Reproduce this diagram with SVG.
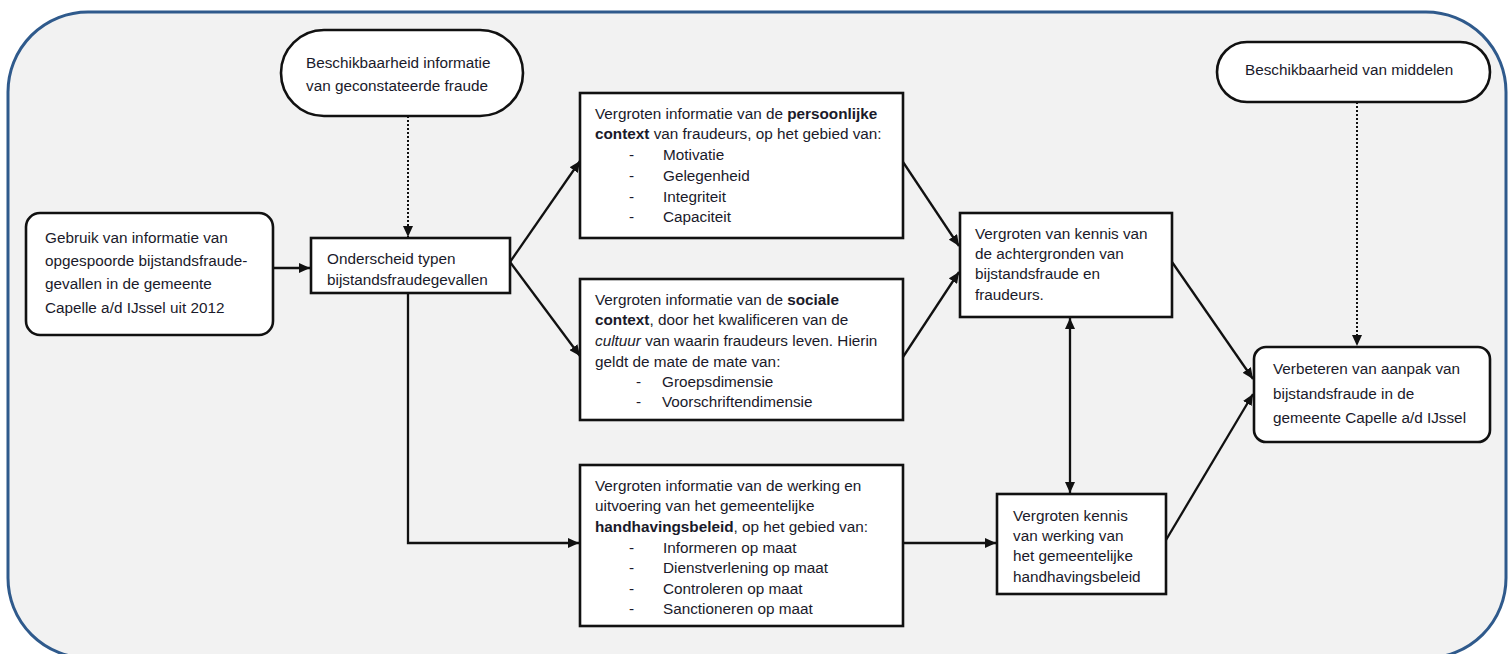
<svg xmlns="http://www.w3.org/2000/svg" width="1508" height="654" viewBox="0 0 1508 654">
<style>
text{font-family:"Liberation Sans",Arial,sans-serif;font-size:15.3px;fill:#1a1a2a}
.box{fill:#fff;stroke:#111;stroke-width:2.6}
.ln{fill:none;stroke:#111;stroke-width:2.3}
.dot{fill:none;stroke:#111;stroke-width:2;stroke-dasharray:2 2}
.b{font-weight:bold}
.i{font-style:italic}
</style>
<defs>
<marker id="ah" markerUnits="userSpaceOnUse" markerWidth="11" markerHeight="10" refX="11" refY="5" orient="auto-start-reverse">
<path d="M0,0 L11,5 L0,10 z" fill="#111"/>
</marker>
</defs>
<rect x="8" y="12" width="1498" height="646" rx="80" ry="80" fill="#f2f2f2" stroke="#2f5a8c" stroke-width="3"/>
<g id="connectors">
<path class="ln" d="M273,268 L310,268" marker-end="url(#ah)"/>
<path class="dot" d="M408,116 L408,237" marker-end="url(#ah)"/>
<path class="ln" d="M510,262 L580,161" marker-end="url(#ah)"/>
<path class="ln" d="M510,262 L580,356" marker-end="url(#ah)"/>
<path class="ln" d="M408,293 L408,543 L579,543" marker-end="url(#ah)"/>
<path class="ln" d="M903,162 L959,246" marker-end="url(#ah)"/>
<path class="ln" d="M903,357 L959,272" marker-end="url(#ah)"/>
<path class="ln" d="M903,543 L996,543" marker-end="url(#ah)"/>
<path class="ln" d="M1070,318 L1070,493" marker-start="url(#ah)" marker-end="url(#ah)"/>
<path class="ln" d="M1172,262 L1253,379" marker-end="url(#ah)"/>
<path class="ln" d="M1166,540 L1253,394" marker-end="url(#ah)"/>
<path class="dot" d="M1357,102 L1357,346" marker-end="url(#ah)"/>
</g>
<g id="pill-informatie">
<rect class="box" x="281" y="30" width="242" height="86" rx="43"/>
<text x="306" y="68">Beschikbaarheid informatie</text>
<text x="306" y="91">van geconstateerde fraude</text>
</g>
<g id="pill-middelen">
<rect class="box" x="1217" y="42" width="273" height="60" rx="30"/>
<text x="1245" y="75">Beschikbaarheid van middelen</text>
</g>
<g id="gebruik">
<rect class="box" x="26" y="213" width="247" height="122" rx="14"/>
<text x="45" y="243">Gebruik van informatie van</text>
<text x="45" y="266">opgespoorde bijstandsfraude-</text>
<text x="45" y="289">gevallen in de gemeente</text>
<text x="45" y="313">Capelle a/d IJssel uit 2012</text>
</g>
<g id="onderscheid">
<rect class="box" x="311" y="238" width="199" height="55"/>
<text x="327" y="264">Onderscheid typen</text>
<text x="327" y="285">bijstandsfraudegevallen</text>
</g>
<g id="persoonlijk">
<rect class="box" x="580" y="93" width="323" height="145"/>
<text x="595" y="119">Vergroten informatie van de <tspan class="b">persoonlijke</tspan></text>
<text x="595" y="139"><tspan class="b">context</tspan> van fraudeurs, op het gebied van:</text>
<text x="629" y="160">-</text><text x="663" y="160">Motivatie</text>
<text x="629" y="181">-</text><text x="663" y="181">Gelegenheid</text>
<text x="629" y="202">-</text><text x="663" y="202">Integriteit</text>
<text x="629" y="222">-</text><text x="663" y="222">Capaciteit</text>
</g>
<g id="sociaal">
<rect class="box" x="580" y="279" width="323" height="141"/>
<text x="595" y="305">Vergroten informatie van de <tspan class="b">sociale</tspan></text>
<text x="595" y="325"><tspan class="b">context</tspan>, door het kwalificeren van de</text>
<text x="595" y="346"><tspan class="i">cultuur</tspan> van waarin fraudeurs leven.  Hierin</text>
<text x="595" y="367">geldt de mate  de mate van:</text>
<text x="636" y="387">-</text><text x="662" y="387">Groepsdimensie</text>
<text x="636" y="407">-</text><text x="662" y="407">Voorschriftendimensie</text>
</g>
<g id="handhaving">
<rect class="box" x="580" y="465" width="323" height="161"/>
<text x="595" y="491">Vergroten informatie van de werking en</text>
<text x="595" y="511">uitvoering van het gemeentelijke</text>
<text x="595" y="532"><tspan class="b">handhavingsbeleid</tspan>, op het gebied van:</text>
<text x="629" y="553">-</text><text x="663" y="553">Informeren op maat</text>
<text x="629" y="573">-</text><text x="663" y="573">Dienstverlening op maat</text>
<text x="629" y="594">-</text><text x="663" y="594">Controleren op maat</text>
<text x="629" y="614">-</text><text x="663" y="614">Sanctioneren op maat</text>
</g>
<g id="achtergronden">
<rect class="box" x="960" y="213" width="212" height="104"/>
<text x="975" y="239">Vergroten van kennis  van</text>
<text x="975" y="259">de achtergronden van</text>
<text x="975" y="279">bijstandsfraude en</text>
<text x="975" y="300">fraudeurs.</text>
</g>
<g id="werking">
<rect class="box" x="997" y="494" width="169" height="100"/>
<text x="1013" y="521">Vergroten kennis</text>
<text x="1013" y="541">van werking van</text>
<text x="1013" y="561">het gemeentelijke</text>
<text x="1013" y="582">handhavingsbeleid</text>
</g>
<g id="verbeteren">
<rect class="box" x="1254" y="347" width="236" height="95" rx="12"/>
<text x="1273" y="374">Verbeteren van  aanpak van</text>
<text x="1273" y="399">bijstandsfraude in de</text>
<text x="1273" y="423">gemeente Capelle a/d IJssel</text>
</g>
</svg>
